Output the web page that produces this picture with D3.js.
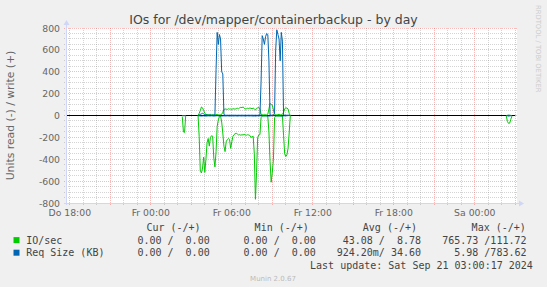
<!DOCTYPE html>
<html>
<head>
<meta charset="utf-8">
<script src="https://cdn.jsdelivr.net/npm/d3@7"></script>
<style>
  body { margin: 0; background: #f0f0f0; }
  svg { display: block; }
  text { font-family: "DejaVu Sans", sans-serif; }
  .mono { font-family: "DejaVu Sans Mono", monospace; font-size: 10px; fill: #444; white-space: pre; }
</style>
</head>
<body>
<div id="container"></div>
<script>
/* CONSTANTS AND GLOBALS */
const width = 547,
  height = 287,
  margin = { top: 28, right: 30, bottom: 84, left: 67 };

const title = "IOs for /dev/mapper/containerbackup - by day";
const yLabel = "Units read (-) / write (+)";

// time window (2000 minutes ending just after the last update)
const windowStart = "2024-09-19T17:47:33";
const windowEnd = "2024-09-21T03:07:33";
const lastSample = "2024-09-21T03:00:00";

const timeTicks = ["2024-09-19T18:00:00", "2024-09-20T00:00:00", "2024-09-20T06:00:00",
  "2024-09-20T12:00:00", "2024-09-20T18:00:00", "2024-09-21T00:00:00"];
const timeLabels = ["Do 18:00", "Fr 00:00", "Fr 06:00", "Fr 12:00", "Fr 18:00", "Sa 00:00"];

const yTicks = [-800, -600, -400, -200, 0, 200, 400, 600, 800];

// data: three segments of 5 minute samples, the rest is unknown
const stepMinutes = 5;
const segStarts = ["2024-09-20T02:20:00", "2024-09-20T03:30:00", "2024-09-21T02:20:00"];

// IO/sec read (drawn below zero)
const ioRead = [
  [10, 150, 155, 5],
  [0, 190, 510, 525, 480, 380, 520, 400, 250, 210, 280, 200, 185, 190, 390, 470, 330,
   100, 40, 10, 5, 60, 160, 280, 330, 240, 220, 210, 220, 300, 240, 190, 175, 165, 163, 170,
   178, 175, 180, 176, 178, 172, 178, 180, 176, 178, 182, 200, 195, 190, 350, 766, 520, 200, 178, 175,
   20, 5, 5, 5, 5, 5, 10, 150, 420, 610, 520, 400, 20, 5, 5, 5, 5, 5, 5, 5,
   180, 350, 375, 360, 300, 160, 0],
  [5, 55, 72, 70, 35, 5]
];
// IO/sec write
const ioWrite = [
  [0, 0, 0, 0],
  [0, 20, 45, 78, 70, 45, 20, 10, 8, 8, 6, 10, 5, 8, 6, 5, 8, 10, 5, 6, 8, 10,
   30, 55, 60, 58, 55, 62, 58, 60, 55, 62, 60, 58, 64, 66, 62, 70, 75, 72, 78, 70,
   58, 62, 66, 64, 68, 66, 62, 68, 60, 50, 66, 70, 75, 60,
   10, 8, 6, 10, 8, 6, 12, 60, 112, 100, 95, 50, 10, 8, 6, 8, 10, 6, 8, 10,
   30, 62, 70, 68, 60, 20, 0],
  [0, 1, 2, 2, 1, 0]
];
// Req Size (KB) read
const reqRead = [
  [1, 2, 2, 1],
  [2, 3, 4, 5, 4, 3, 4, 5, 4, 3, 4, 4, 3, 4, 5, 4, 3, 2, 2, 3, 4, 5, 4, 3, 4, 4,
   3, 4, 5, 4, 3, 4, 4, 3, 4, 5, 4, 3, 4, 4, 3, 4, 5, 4, 3, 4, 4, 3, 4, 5, 4, 6, 4,
   3, 4, 3, 2, 2, 2, 2, 2, 3, 4, 5, 4, 3, 2, 2, 2, 2, 2, 2, 2, 3, 4, 5, 4, 3, 3, 2, 1, 0, 0],
  [2, 3, 6, 4, 2, 1]
];
// Req Size (KB) write
const reqWrite = [
  [0, 0, 0, 0],
  [0, 5, 10, 15, 20, 15, 8, 5, 3, 3, 5, 5, 3, 3, 3, 8,
   420, 760, 650, 740, 700, 400, 380, 10,
   3, 2, 3, 2, 3, 2, 2, 3, 2, 3, 2, 2, 3, 2, 2, 3, 2, 2, 3, 2, 2, 3, 2, 2, 3, 2, 2, 3, 2, 2, 3, 5,
   300, 730, 700, 650, 720, 750, 740, 500,
   5, 3, 3, 5,
   20, 600, 784, 740, 700, 500, 760, 680,
   5, 3, 3, 2, 3, 2, 0],
  [0, 1, 2, 1, 0, 0]
];

const legendHead = ["Cur (-/+)", "Min (-/+)", "Avg (-/+)", "Max (-/+)"];
const legendNames = ["IO/sec", "Req Size (KB)"];
const legendColors = ["#00cc00", "#0066b3"];
const legendValues = [
  ["0.00 /  0.00", "0.00 /  0.00", "43.08 /  8.78", "765.73 /111.72"],
  ["0.00 /  0.00", "0.00 /  0.00", "924.20m/ 34.60", "5.98 /783.62"]
];
const lastUpdate = "Last update: Sat Sep 21 03:00:17 2024";
const version = "Munin 2.0.67";

/* SCALES */
const parse = d3.timeParse("%Y-%m-%dT%H:%M:%S");
const x0 = margin.left, x1 = width - margin.right,
  y0 = margin.top, y1 = height - margin.bottom;

const xScale = d3.scaleTime()
  .domain([parse(windowStart), parse(windowEnd)])
  .range([x0, x1]);
const yScale = d3.scaleLinear()
  .domain([-800, 800])
  .range([y1, y0]);

const svg = d3.select("#container").append("svg")
  .attr("width", width)
  .attr("height", height);

svg.append("rect").attr("width", width).attr("height", height).attr("fill", "#f0f0f0");
svg.append("rect")
  .attr("x", x0).attr("y", y0)
  .attr("width", x1 - x0).attr("height", y1 - y0)
  .attr("fill", "#ffffff");

/* GRID */
const minorCol = "rgba(120,120,120,0.32)",
  majorCol = "rgba(235,40,40,0.32)";

const hours = d3.timeHour.range(d3.timeHour.ceil(xScale.domain()[0]), xScale.domain()[1]);
svg.append("g").selectAll("line")
  .data(hours)
  .join("line")
  .attr("x1", d => Math.floor(xScale(d)) + 0.5)
  .attr("x2", d => Math.floor(xScale(d)) + 0.5)
  .attr("y1", y0).attr("y2", y1 + 2)
  .attr("stroke", d => d.getHours() % 3 === 0 ? majorCol : minorCol)
  .attr("stroke-dasharray", "1,1");

const yGrid = d3.range(-800, 801, 50);
svg.append("g").selectAll("line")
  .data(yGrid)
  .join("line")
  .attr("x1", x0 - 3).attr("x2", x1)
  .attr("y1", d => Math.floor(yScale(d)) + 0.5)
  .attr("y2", d => Math.floor(yScale(d)) + 0.5)
  .attr("stroke", d => d % 200 === 0 ? majorCol : minorCol)
  .attr("stroke-dasharray", "1,1");

/* AXES */
const axisColor = "#cfd6f8";
svg.append("line")
  .attr("x1", x0 - 0.5).attr("x2", x0 - 0.5)
  .attr("y1", y1 + 2).attr("y2", y0 - 4)
  .attr("stroke", axisColor);
svg.append("path")
  .attr("d", `M${x0 - 3.5},${y0 - 3}L${x0 - 0.5},${y0 - 8}L${x0 + 2.5},${y0 - 3}Z`)
  .attr("fill", axisColor);
svg.append("line")
  .attr("x1", x0 - 3).attr("x2", x1 + 3)
  .attr("y1", y1 + 0.5).attr("y2", y1 + 0.5)
  .attr("stroke", axisColor);
svg.append("path")
  .attr("d", `M${x1 + 2},${y1 - 2.5}L${x1 + 7},${y1 + 0.5}L${x1 + 2},${y1 + 3.5}Z`)
  .attr("fill", axisColor);

// tick labels
svg.append("g").selectAll("text")
  .data(yTicks)
  .join("text")
  .attr("x", 60)
  .attr("y", d => yScale(d) + 3.5)
  .attr("text-anchor", "end")
  .attr("font-size", 9.3)
  .attr("fill", "#666")
  .text(d => d);

svg.append("g").selectAll("text")
  .data(timeTicks)
  .join("text")
  .attr("x", d => xScale(parse(d)))
  .attr("y", 216)
  .attr("text-anchor", "middle")
  .attr("font-size", 9.3)
  .attr("fill", "#666")
  .text((d, i) => timeLabels[i]);

svg.append("text")
  .attr("transform", `translate(14,${(y0 + y1) / 2}) rotate(-90)`)
  .attr("text-anchor", "middle")
  .attr("font-size", 10.8)
  .attr("fill", "#666")
  .text(yLabel);

svg.append("text")
  .attr("x", 273.5).attr("y", 24)
  .attr("text-anchor", "middle")
  .attr("font-size", 12.5)
  .attr("fill", "#444")
  .text(title);

svg.append("text")
  .attr("transform", "translate(536,5) rotate(90)")
  .attr("font-size", 6.8)
  .attr("fill", "#cccccc")
  .text("RRDTOOL / TOBI OETIKER");

/* LINES */
// zero line
svg.append("line")
  .attr("x1", x0).attr("x2", xScale(parse(lastSample)))
  .attr("y1", Math.floor(yScale(0)) + 0.5).attr("y2", Math.floor(yScale(0)) + 0.5)
  .attr("stroke", "#000");

function toPoints(segs, sign) {
  return segs.map((vals, s) => {
    const start = parse(segStarts[s]);
    return vals.map((v, i) => ({ t: d3.timeMinute.offset(start, i * stepMinutes), v: sign * v }));
  });
}

const lineGen = d3.line()
  .x(d => xScale(d.t))
  .y(d => yScale(d.v));

const series = [
  { segs: toPoints(ioRead, -1), color: legendColors[0] },
  { segs: toPoints(ioWrite, 1), color: legendColors[0] },
  { segs: toPoints(reqRead, -1), color: legendColors[1] },
  { segs: toPoints(reqWrite, 1), color: legendColors[1] }
];

series.forEach(s => {
  svg.append("g").selectAll("path")
    .data(s.segs)
    .join("path")
    .attr("d", d => lineGen(d))
    .attr("fill", "none")
    .attr("stroke", s.color)
    .attr("stroke-width", 1);
});

/* LEGEND */
const headEnds = [200.6, 308.8, 417, 525.8];
const valueEnds = [209.7, 315.8, 421, 526.5];
const rowY = [243.6, 256.2];

svg.append("g").selectAll("text")
  .data(legendHead)
  .join("text")
  .attr("class", "mono")
  .attr("x", (d, i) => headEnds[i])
  .attr("y", 231.4)
  .attr("text-anchor", "end")
  .text(d => d);

legendNames.forEach((name, r) => {
  svg.append("rect")
    .attr("x", 13.5).attr("y", rowY[r] - 6.5)
    .attr("width", 6).attr("height", 6)
    .attr("fill", legendColors[r]);
  svg.append("text")
    .attr("class", "mono")
    .attr("x", 26.2).attr("y", rowY[r])
    .text(name);
  svg.append("g").selectAll("text")
    .data(legendValues[r])
    .join("text")
    .attr("class", "mono")
    .attr("x", (d, i) => valueEnds[i])
    .attr("y", rowY[r])
    .attr("text-anchor", "end")
    .text(d => d);
});

svg.append("text")
  .attr("class", "mono")
  .attr("x", 532.8).attr("y", 269.1)
  .attr("text-anchor", "end")
  .text(lastUpdate);

svg.append("text")
  .attr("x", 273).attr("y", 281.3)
  .attr("text-anchor", "middle")
  .attr("font-size", 7)
  .attr("fill", "#bbbbbb")
  .text(version);
</script>
</body>
</html>
